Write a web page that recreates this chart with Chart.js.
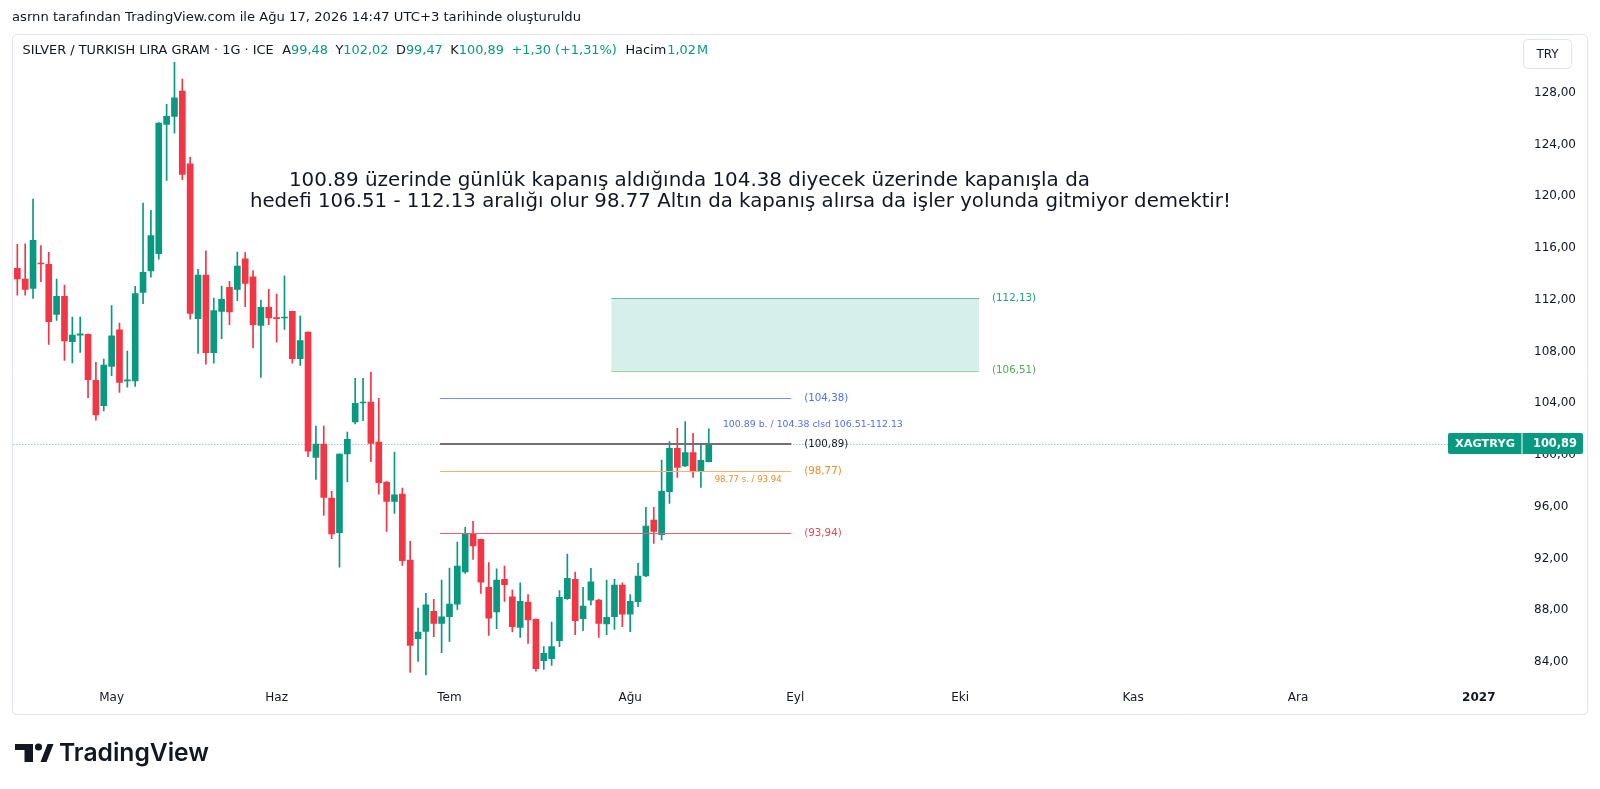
<!DOCTYPE html>
<html lang="tr">
<head>
<meta charset="utf-8">
<title>XAGTRYG 1G</title>
<script src="https://cdn.jsdelivr.net/npm/chart.js@4.4.1/dist/chart.umd.min.js"></script>
<style>
  html, body { margin: 0; padding: 0; background: #ffffff; }
  #box { position: relative; width: 1600px; height: 789px; }
</style>
</head>
<body>
<div id="box"><canvas id="chart"></canvas></div>
<script>
'use strict';

// daily candles, 15 Nis 2026 -> 17 Ağu 2026
const openPrices = [114.43, 113.60, 112.88, 114.84, 114.74, 110.87, 112.26, 108.76, 109.27, 109.32,
  105.77, 103.81, 106.85, 109.68, 105.72, 105.72, 112.57, 114.22, 115.56, 125.55,
  126.17, 128.13, 122.51, 110.54, 113.91, 107.91, 111.10, 112.96, 112.80, 115.17,
  113.78, 110.02, 111.41, 110.59, 110.59, 111.10, 107.45, 109.51, 99.82, 100.85,
  96.68, 94.00, 100.08, 102.55, 104.02, 104.09, 101.00, 97.91, 96.42, 96.98,
  91.88, 85.80, 86.37, 87.92, 86.99, 87.50, 88.48, 90.96, 93.89, 93.48,
  89.77, 87.87, 90.39, 89.05, 86.68, 88.64, 87.30, 84.11, 84.26, 85.65,
  88.90, 90.39, 87.35, 88.79, 88.79, 86.94, 87.51, 89.95, 87.71, 88.66,
  90.65, 94.98, 93.84, 97.17, 100.51, 99.15, 100.18, 98.79, 99.48];
const highPrices = [116.28, 116.33, 119.78, 116.18, 115.66, 113.60, 113.14, 110.66, 110.66, 109.37,
  107.16, 107.42, 111.54, 110.20, 108.04, 113.03, 119.47, 118.91, 125.70, 127.10,
  130.34, 129.06, 123.00, 114.35, 115.79, 112.13, 113.06, 113.42, 115.69, 115.64,
  114.25, 111.98, 112.80, 112.44, 113.84, 111.10, 110.74, 109.51, 102.24, 102.24,
  97.19, 100.10, 101.78, 105.92, 105.92, 106.41, 104.38, 97.95, 100.23, 97.45,
  93.33, 88.17, 89.31, 88.84, 90.34, 91.27, 93.28, 94.41, 94.87, 93.50,
  91.68, 91.21, 91.42, 89.57, 90.13, 89.21, 87.35, 85.19, 87.09, 89.52,
  92.35, 90.96, 89.77, 91.24, 88.84, 90.34, 90.39, 90.13, 89.21, 91.63,
  95.96, 95.96, 99.61, 101.03, 102.06, 102.58, 101.67, 100.90, 102.02];
const lowPrices = [112.36, 112.36, 112.11, 113.39, 108.55, 110.41, 107.31, 107.11, 107.93, 104.43,
  102.70, 103.40, 106.13, 104.84, 105.25, 105.30, 111.69, 113.75, 115.14, 121.22,
  124.88, 121.28, 110.49, 107.86, 107.03, 107.09, 108.99, 110.07, 111.93, 111.47,
  108.27, 106.00, 110.07, 108.73, 109.71, 107.09, 106.93, 99.87, 98.12, 95.34,
  93.54, 91.34, 97.94, 102.40, 102.65, 99.48, 96.98, 94.10, 95.49, 91.47,
  83.20, 84.05, 83.00, 85.96, 84.72, 85.60, 88.07, 90.85, 91.94, 89.31,
  86.06, 86.58, 88.69, 86.32, 85.91, 85.45, 83.30, 83.44, 83.75, 85.19,
  88.85, 86.11, 86.42, 88.41, 85.91, 86.11, 86.53, 86.73, 86.35, 88.28,
  90.60, 93.17, 93.43, 96.26, 98.27, 99.10, 98.27, 97.50, 99.47];
const closePrices = [113.60, 112.80, 116.59, 114.76, 110.30, 112.26, 108.81, 109.27, 109.37, 105.82,
  103.10, 106.95, 109.22, 105.61, 105.82, 112.47, 114.11, 116.95, 125.65, 126.17,
  127.61, 121.69, 110.95, 113.91, 107.91, 111.16, 112.03, 111.05, 114.61, 113.27,
  110.07, 111.41, 110.59, 110.54, 110.64, 107.45, 108.84, 100.29, 100.85, 96.73,
  93.90, 100.08, 101.21, 103.99, 104.07, 100.90, 97.86, 96.42, 96.93, 91.83,
  85.29, 86.32, 88.43, 86.99, 87.50, 88.48, 91.42, 93.94, 92.97, 90.18,
  87.40, 90.34, 89.98, 86.73, 88.69, 87.25, 83.49, 84.67, 85.19, 89.00,
  90.47, 87.20, 88.33, 90.21, 86.99, 87.45, 89.95, 87.71, 88.69, 90.65,
  94.51, 94.10, 97.19, 100.51, 99.05, 100.18, 98.79, 99.59, 100.89];

const priceTicks = [84, 88, 92, 96, 100, 104, 108, 112, 116, 120, 124, 128];
const monthNames = ['Oca', 'Şub', 'Mar', 'Nis', 'May', 'Haz', 'Tem', 'Ağu', 'Eyl', 'Eki', 'Kas', 'Ara'];
const holidays = ['2026-09-07', '2027-01-01'];

// drawings on the chart
const levelPrices = [104.38, 100.89, 98.77, 93.94];
const levelLabels = ['(104,38)', '(100,89)', '(98,77)', '(93,94)'];
const levelColors = ['#7290f0', '#6f7079', '#f6b26b', '#e8606e'];
const levelTextColors = ['#4f70ee', '#131722', '#f08a24', '#e04a5c'];
const levelWidths = [1, 2, 1, 1];
const zonePrices = [106.51, 112.13];
const zoneLabels = ['(106,51)', '(112,13)'];
const noteLines = [
  '100.89 üzerinde günlük kapanış aldığında 104.38 diyecek üzerinde kapanışla da',
  'hedefi 106.51 - 112.13 aralığı olur 98.77 Altın da kapanış alırsa da işler yolunda gitmiyor demektir!'
];

const SLOTS = 192;
const UP = '#089981', DOWN = '#f23645', INK = '#131722';

const tradingDays = [];
let day = new Date(Date.UTC(2026, 3, 15));
while (tradingDays.length < SLOTS) {
  const iso = day.toISOString().slice(0, 10);
  const wd = day.getUTCDay();
  if (wd !== 0 && wd !== 6 && holidays.indexOf(iso) === -1) tradingDays.push(iso);
  day.setUTCDate(day.getUTCDate() + 1);
}

function monthTick(i) {
  if (i === 0 || !tradingDays[i]) return null;
  const m = +tradingDays[i].slice(5, 7) - 1;
  const pm = +tradingDays[i - 1].slice(5, 7) - 1;
  if (m === pm) return null;
  return m === 0 ? tradingDays[i].slice(0, 4) : monthNames[m];
}

const candleColors = closePrices.map((c, i) => c >= openPrices[i] ? UP : DOWN);
const wickData = highPrices.map((h, i) => [lowPrices[i], h]);
const bodyData = openPrices.map((o, i) => [Math.min(o, closePrices[i]), Math.max(o, closePrices[i])]);

function fitFont(ctx, text, weight, family, width) {
  ctx.font = weight + ' 20px ' + family;
  const s = 20 * width / ctx.measureText(text).width;
  return weight + ' ' + s.toFixed(2) + 'px ' + family;
}

// draw text at a fixed size, squeezed horizontally to a width
function squeezeText(ctx, text, x, y, font, width) {
  ctx.font = font;
  const w = ctx.measureText(text).width;
  ctx.save();
  ctx.translate(x, y);
  ctx.scale(width / w, 1);
  ctx.fillText(text, 0, 0);
  ctx.restore();
}

function rrect(c, x, y, w, h, r) {
  c.beginPath();
  c.moveTo(x + r, y);
  c.lineTo(x + w - r, y); c.quadraticCurveTo(x + w, y, x + w, y + r);
  c.lineTo(x + w, y + h - r); c.quadraticCurveTo(x + w, y + h, x + w - r, y + h);
  c.lineTo(x + r, y + h); c.quadraticCurveTo(x, y + h, x, y + h - r);
  c.lineTo(x, y + r); c.quadraticCurveTo(x, y, x + r, y);
  c.closePath();
}

function xAt(chart, i) {
  const sx = chart.scales.x;
  const x0 = sx.getPixelForValue(0), x1 = sx.getPixelForValue(1);
  return x0 + i * (x1 - x0);
}

const fmt = v => v.toFixed(2).replace('.', ',');

const tvDecor = {
  id: 'tvDecor',
  beforeDraw(chart) {
    const c = chart.ctx;
    c.save();
    c.fillStyle = '#ffffff';
    c.fillRect(0, 0, chart.width, chart.height);
    c.strokeStyle = '#e0e3eb';
    c.lineWidth = 1;
    rrect(c, 12.5, 34.5, 1575, 680, 4);
    c.stroke();
    c.restore();
  },
  beforeDatasetsDraw(chart) {
    const c = chart.ctx, a = chart.chartArea;
    const y = Math.round(chart.scales.y.getPixelForValue(closePrices[closePrices.length - 1])) + 0.5;
    c.save();
    c.setLineDash([1, 2]);
    c.strokeStyle = '#5bb5a4';
    c.lineWidth = 1;
    c.beginPath();
    c.moveTo(a.left, y);
    c.lineTo(a.right - 74, y);
    c.stroke();
    c.restore();
  },
  afterDatasetsDraw(chart) {
    const c = chart.ctx, sy = chart.scales.y;
    c.save();

    // target zone
    const zx0 = xAt(chart, 75.6), zx1 = xAt(chart, 122.4);
    const zTop = sy.getPixelForValue(zonePrices[1]), zBot = sy.getPixelForValue(zonePrices[0]);
    c.fillStyle = 'rgba(8,153,129,0.16)';
    c.fillRect(zx0, zTop, zx1 - zx0, zBot - zTop);
    c.lineWidth = 1;
    c.strokeStyle = '#5fc2a6';
    c.beginPath(); c.moveTo(zx0, Math.round(zTop) + 0.5); c.lineTo(zx1, Math.round(zTop) + 0.5); c.stroke();
    c.strokeStyle = '#9ad39a';
    c.beginPath(); c.moveTo(zx0, Math.round(zBot) + 0.5); c.lineTo(zx1, Math.round(zBot) + 0.5); c.stroke();
    c.font = fitFont(c, zoneLabels[1], 'normal', 'DejaVu Sans', 44);
    c.textBaseline = 'middle';
    c.textAlign = 'left';
    c.fillStyle = '#22a07f';
    c.fillText(zoneLabels[1], zx1 + 13, zTop);
    c.fillStyle = '#4cab5a';
    c.fillText(zoneLabels[0], zx1 + 13, zBot);

    // horizontal levels
    const lx0 = xAt(chart, 53.8), lx1 = xAt(chart, 98.5);
    levelPrices.forEach((p, i) => {
      const y = Math.round(sy.getPixelForValue(p)) + (levelWidths[i] === 1 ? 0.5 : 0);
      c.strokeStyle = levelColors[i];
      c.lineWidth = levelWidths[i];
      c.beginPath(); c.moveTo(lx0, y); c.lineTo(lx1, y); c.stroke();
      c.fillStyle = levelTextColors[i];
      c.font = fitFont(c, '(104,38)', 'normal', 'DejaVu Sans', 44);
      c.fillText(levelLabels[i], lx1 + 13, y);
    });

    // small notes
    c.fillStyle = '#4f70ee';
    c.font = fitFont(c, '100.89 b. / 104.38 clsd 106.51-112.13', 'normal', 'DejaVu Sans', 180);
    c.fillText('100.89 b. / 104.38 clsd 106.51-112.13', xAt(chart, 89.8), sy.getPixelForValue(102.32));
    c.fillStyle = '#f08a24';
    c.font = fitFont(c, '98.77 s. / 93.94', 'normal', 'DejaVu Sans', 67);
    c.fillText('98.77 s. / 93.94', xAt(chart, 88.75), sy.getPixelForValue(98.07));

    // big comment
    c.fillStyle = INK;
    c.textBaseline = 'alphabetic';
    squeezeText(c, noteLines[0], xAt(chart, 34.57), sy.getPixelForValue(120.79), 'normal 19.5px DejaVu Sans', 801);
    squeezeText(c, noteLines[1], xAt(chart, 29.6), sy.getPixelForValue(119.19), 'normal 19.5px DejaVu Sans', 981);
    c.restore();
  },
  afterDraw(chart) {
    const c = chart.ctx, a = chart.chartArea, sy = chart.scales.y;
    const n = closePrices.length - 1;
    c.save();
    c.textBaseline = 'middle';
    c.textAlign = 'left';

    // snapshot header
    const head = 'asrnn tarafından TradingView.com ile Ağu 17, 2026 14:47 UTC+3 tarihinde oluşturuldu';
    c.fillStyle = INK;
    squeezeText(c, head, 12, 17.5, 'normal 13px DejaVu Sans', 569);

    // legend line
    const chg = closePrices[n] - closePrices[n - 1];
    const pct = chg / closePrices[n - 1] * 100;
    const parts = [
      ['SILVER / TURKISH LIRA GRAM · 1G · ICE', INK, 8],
      ['A', INK, 0], [fmt(openPrices[n]), UP, 7],
      ['Y', INK, 0], [fmt(highPrices[n]), UP, 7],
      ['D', INK, 0], [fmt(lowPrices[n]), UP, 7],
      ['K', INK, 0], [fmt(closePrices[n]), UP, 7],
      ['+' + fmt(chg) + ' (+' + fmt(pct) + '%)', UP, 8],
      ['Hacim', INK, 1], ['1,02', UP, 1], ['M', UP, 0]
    ];
    c.font = 'normal 12px DejaVu Sans';
    let tot = 0;
    parts.forEach(p => { tot += c.measureText(p[0]).width + p[2]; });
    const k = 686 / tot;
    c.font = 'normal ' + (12 * k).toFixed(2) + 'px DejaVu Sans';
    let lx = 22.5;
    parts.forEach(p => {
      c.fillStyle = p[1];
      c.fillText(p[0], lx, 51);
      lx += c.measureText(p[0]).width + p[2] * k;
    });

    // currency button
    c.strokeStyle = '#e0e3eb';
    c.lineWidth = 1;
    rrect(c, 1523.5, 39.5, 48, 29, 4);
    c.stroke();
    c.fillStyle = INK;
    c.textAlign = 'center';
    c.font = 'normal 12px DejaVu Sans';
    c.fillText('TRY', 1547.5, 54.5);

    // last price label
    const py = sy.getPixelForValue(closePrices[n]);
    c.fillStyle = UP;
    rrect(c, a.right - 74, py - 10.5, 135, 21, 2);
    c.fill();
    c.fillStyle = '#ffffff';
    c.fillRect(a.right - 0.5, py - 10.5, 1, 21);
    c.textAlign = 'left';
    c.font = fitFont(c, 'XAGTRYG', 'bold', 'DejaVu Sans', 60);
    c.fillText('XAGTRYG', a.right - 67, py + 0.5);
    c.font = fitFont(c, fmt(closePrices[n]), 'bold', 'DejaVu Sans', 44);
    c.fillText(fmt(closePrices[n]), a.right + 11, py + 0.5);

    // TradingView mark
    c.fillStyle = INK;
    c.fillRect(15, 744, 18, 6);
    c.fillRect(24.5, 744, 8.5, 18);
    c.beginPath(); c.arc(38.5, 747, 3.6, 0, Math.PI * 2); c.fill();
    c.beginPath();
    c.moveTo(40.5, 762); c.lineTo(47.5, 744); c.lineTo(53.5, 744); c.lineTo(46.5, 762);
    c.closePath(); c.fill();
    c.textBaseline = 'alphabetic';
    c.font = fitFont(c, 'TradingView', '600', 'Inter', 150);
    c.fillText('TradingView', 59, 761);
    c.restore();
  }
};

function isYearTick(ctx) {
  const lbl = (ctx.tick && ctx.tick.label) || monthTick(ctx.index);
  return typeof lbl === 'string' && /^\d{4}$/.test(lbl);
}

new Chart(document.getElementById('chart'), {
  type: 'bar',
  data: {
    labels: tradingDays,
    datasets: [
      {
        label: 'fitil',
        data: wickData,
        backgroundColor: candleColors,
        barThickness: 1,
        grouped: false,
        order: 2
      },
      {
        label: 'gövde',
        data: bodyData,
        backgroundColor: candleColors,
        barThickness: 6,
        minBarLength: 1,
        grouped: false,
        order: 1
      }
    ]
  },
  options: {
    responsive: true,
    maintainAspectRatio: false,
    animation: false,
    events: [],
    layout: { padding: { left: 13.4, right: 12, top: 35, bottom: 74 } },
    plugins: { legend: { display: false }, tooltip: { enabled: false } },
    scales: {
      x: {
        type: 'category',
        offset: true,
        grid: { display: false, drawTicks: false },
        border: { display: false },
        afterFit: s => { s.height = 29; },
        ticks: {
          autoSkip: false,
          maxRotation: 0,
          padding: 5,
          color: INK,
          font: ctx => ({ family: 'DejaVu Sans', size: 12, weight: isYearTick(ctx) ? 'bold' : 'normal' }),
          callback: (v, i) => monthTick(i)
        }
      },
      y: {
        position: 'right',
        min: 82.15,
        max: 132.46,
        grid: { display: false, drawTicks: false },
        border: { display: false },
        afterFit: s => { s.width = 66; },
        afterBuildTicks: s => { s.ticks = priceTicks.map(v => ({ value: v })); },
        ticks: {
          padding: 12,
          color: INK,
          font: { family: 'DejaVu Sans', size: 12 },
          callback: v => fmt(v)
        }
      }
    }
  },
  plugins: [tvDecor]
});
</script>
</body>
</html>
